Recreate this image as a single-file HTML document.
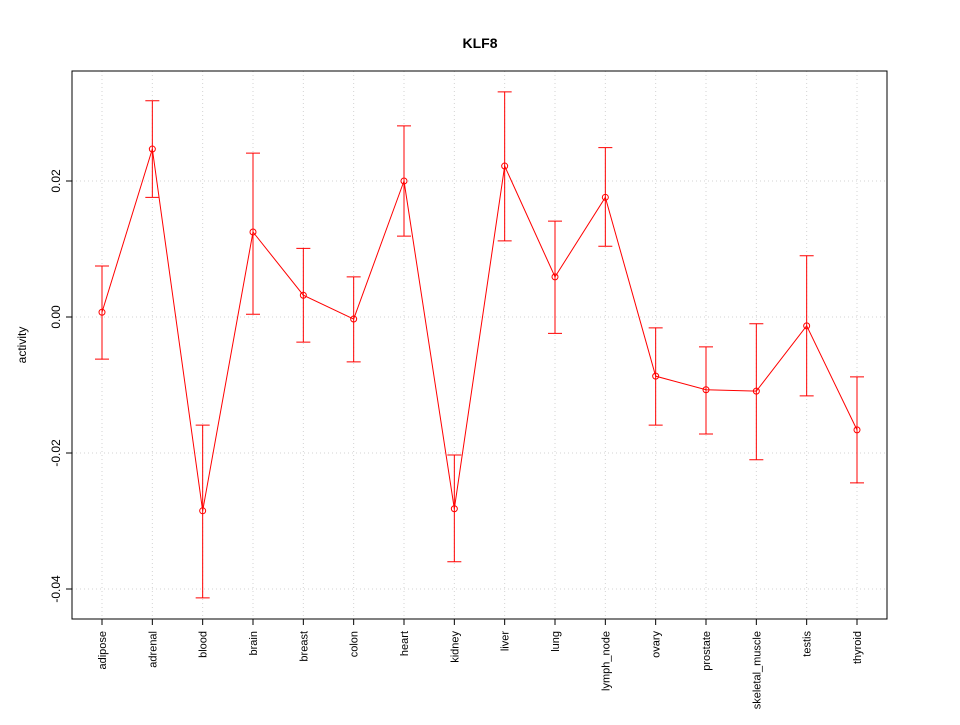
<!DOCTYPE html>
<html><head><meta charset="utf-8"><style>
body{margin:0;background:#fff;}
text{font-family:"Liberation Sans",Arial,sans-serif;}
</style></head><body>
<svg id="chart" width="960" height="720" xmlns="http://www.w3.org/2000/svg">
<rect width="960" height="720" fill="#fff"/>
<text x="480" y="48" text-anchor="middle" font-size="14" font-weight="bold">KLF8</text>
<text transform="translate(26,345) rotate(-90)" text-anchor="middle" font-size="12">activity</text>
<g id="grid"></g><g id="axes"></g><g id="marks"></g>
</svg>
<script>
const categories=["adipose","adrenal","blood","brain","breast","colon","heart","kidney","liver","lung","lymph_node","ovary","prostate","skeletal_muscle","testis","thyroid"];
const values=[0.0007,0.0247,-0.0285,0.0125,0.0032,-0.0003,0.0200,-0.0282,0.0222,0.0059,0.0176,-0.0087,-0.0107,-0.0109,-0.0013,-0.0166];
const upper=[0.0075,0.0318,-0.0159,0.0241,0.0101,0.0059,0.0281,-0.0203,0.0331,0.0141,0.0249,-0.0016,-0.0044,-0.0010,0.0090,-0.0088];
const lower=[-0.0062,0.0176,-0.0413,0.0004,-0.0037,-0.0066,0.0119,-0.0360,0.0112,-0.0024,0.0104,-0.0159,-0.0172,-0.0210,-0.0116,-0.0244];
const yTicks=[-0.04,-0.02,0.00,0.02];
const yTickLabels=["-0.04","-0.02","0.00","0.02"];
const NS="http://www.w3.org/2000/svg";
const L=72,R=887,T=71,B=619;
const x=i=>102+i*(857-102)/(categories.length-1);
const y=v=>317-v*6800;
function mk(tag,attrs,parent){const e=document.createElementNS(NS,tag);for(const k in attrs)e.setAttribute(k,attrs[k]);document.getElementById(parent).appendChild(e);return e;}
categories.forEach((c,i)=>{
 const g=mk("line",{x1:x(i),x2:x(i),y1:T,y2:B,stroke:"#d3d3d3","stroke-dasharray":"1,3"},"grid");
 
 
 const t=mk("line",{x1:x(i),x2:x(i),y1:B,y2:B+6,stroke:"#000"},"axes");
 
 
 const lb=mk("text",{transform:`translate(${x(i)+4},${B+12}) rotate(-90)`,"text-anchor":"end","font-size":"11"},"axes");
 lb.textContent=c;
 
 
});
yTicks.forEach((v,i)=>{
 const g=mk("line",{x1:L,x2:R,y1:y(v),y2:y(v),stroke:"#d3d3d3","stroke-dasharray":"1,3"},"grid");
 
 
 const t=mk("line",{x1:L-6,x2:L,y1:y(v),y2:y(v),stroke:"#000"},"axes");
 
 
 const lb=mk("text",{transform:`translate(${L-12},${y(v)}) rotate(-90)`,"text-anchor":"middle","font-size":"12"},"axes");
 lb.textContent=yTickLabels[i];
 
 
});
const frame=mk("rect",{x:L,y:T,width:R-L,height:B-T,fill:"none",stroke:"#000"},"axes");


const line=mk("polyline",{points:values.map((v,i)=>x(i)+","+y(v)).join(" "),fill:"none",stroke:"red"},"marks");


values.forEach((v,i)=>{
 const e=mk("path",{d:`M${x(i)},${y(upper[i])}V${y(lower[i])}M${x(i)-7},${y(upper[i])}H${x(i)+7}M${x(i)-7},${y(lower[i])}H${x(i)+7}`,stroke:"red",fill:"none"},"marks");
 
 
 const p=mk("circle",{cx:x(i),cy:y(v),r:3,fill:"none",stroke:"red"},"marks");
 
 
});
</script>
</body></html>
